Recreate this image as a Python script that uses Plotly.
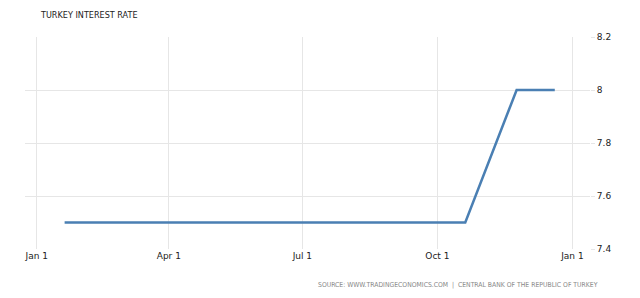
import plotly.graph_objects as go

dates = ["2013-01-20", "2013-02-20", "2013-03-20", "2013-04-20", "2013-05-20",
         "2013-06-20", "2013-07-20", "2013-08-20", "2013-09-20", "2013-10-20",
         "2013-11-24", "2013-12-20"]
rates = [7.5, 7.5, 7.5, 7.5, 7.5, 7.5, 7.5, 7.5, 7.5, 7.5, 8.0, 8.0]
tick_dates = ["2013-01-01", "2013-04-01", "2013-07-01", "2013-10-01", "2014-01-01"]
tick_text = ["Jan 1", "Apr 1", "Jul 1", "Oct 1", "Jan 1"]
y_ticks = [7.4, 7.6, 7.8, 8.0, 8.2]
y_text = ["7.4", "7.6", "7.8", "8", "8.2"]

fig = go.Figure()
fig.add_trace(go.Scatter(x=dates, y=rates, mode="lines",
                         line=dict(color="#4a7fb3", width=2.5)))

fig.update_layout(
    width=640, height=298,
    margin=dict(l=25, r=50, t=37, b=49),
    paper_bgcolor="white", plot_bgcolor="white",
    showlegend=False,
    font=dict(family="DejaVu Sans", size=9, color="#222222"),
    xaxis=dict(range=["2012-12-24", "2014-01-13"], tickvals=tick_dates, ticktext=tick_text,
               showgrid=True, gridcolor="#e6e6e6", gridwidth=1, zeroline=False,
               showline=False, ticks="", tickfont=dict(size=9, color="#222222")),
    yaxis=dict(range=[7.4, 8.2], tickvals=y_ticks, ticktext=y_text, side="right",
               showgrid=True, gridcolor="#e6e6e6", gridwidth=1, zeroline=False,
               showline=False, ticks="outside", ticklen=4, tickcolor="#e6e6e6",
               tickfont=dict(size=9, color="#222222")),
    annotations=[
        dict(text="TURKEY INTEREST RATE", xref="paper", yref="paper",
             x=(38 - 25) / 565, y=1 + (37 - 15) / 212, xanchor="left", yanchor="middle",
             showarrow=False, font=dict(family="DejaVu Sans Condensed", size=9, color="#222222")),
        dict(text="SOURCE: WWW.TRADINGECONOMICS.COM  |  CENTRAL BANK OF THE REPUBLIC OF TURKEY",
             xref="paper", yref="paper",
             x=(600 - 25) / 565, y=-(285 - 249) / 212, xanchor="right", yanchor="middle",
             showarrow=False, font=dict(family="DejaVu Sans Condensed", size=6.8, color="#888888")),
    ],
)

fig.write_html("out.html")
